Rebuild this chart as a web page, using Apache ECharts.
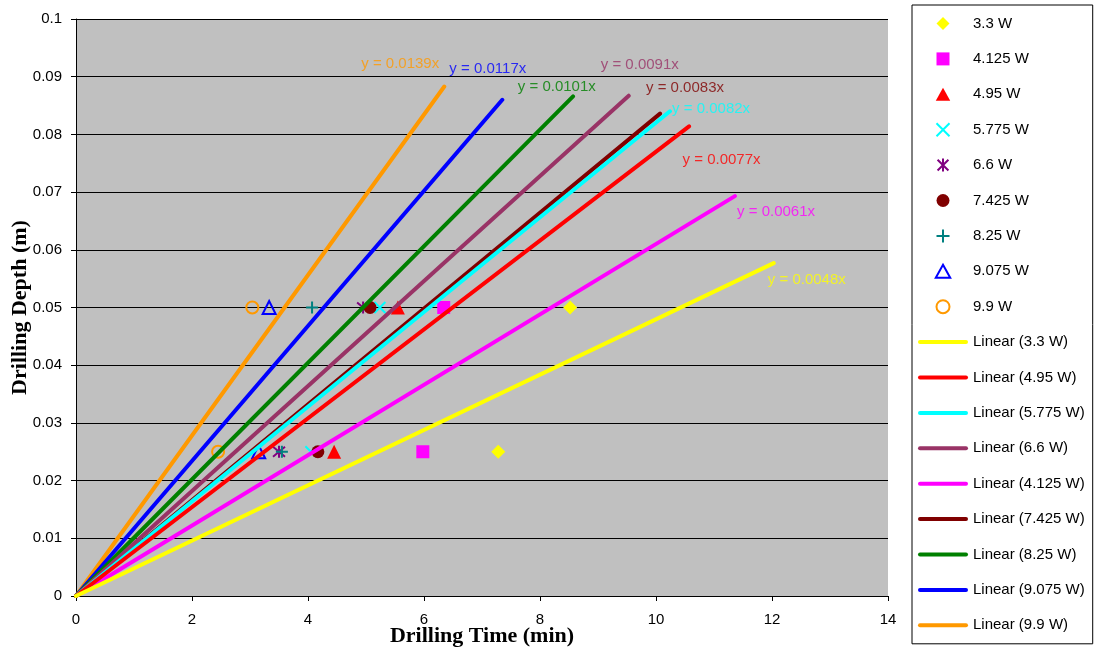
<!DOCTYPE html>
<html><head><meta charset="utf-8">
<script src="https://cdn.jsdelivr.net/npm/echarts@6/dist/echarts.min.js"></script>
<style>html,body{margin:0;padding:0;background:#fff}#c{width:1097px;height:648px}</style>
</head><body><div id="c"></div>
<script>
// ---- data ----
const powers = ['3.3', '4.125', '4.95', '5.775', '6.6', '7.425', '8.25', '9.075', '9.9'];
const depthLow = 0.025;
const depthHigh = 0.05;
const timeAtLow  = [7.28, 5.98, 4.45, 4.05, 3.50, 4.17, 3.55, 3.15, 2.45];
const timeAtHigh = [8.52, 6.34, 5.55, 5.24, 4.95, 5.07, 4.07, 3.33, 3.04];
const slopes = ['0.0048', '0.0061', '0.0077', '0.0082', '0.0091', '0.0083', '0.0101', '0.0117', '0.0139'];
const trendEndX = [12.03, 11.36, 10.57, 10.24, 9.53, 10.07, 8.57, 7.35, 6.35];
const trendEndY = [0.0577, 0.0693, 0.0814, 0.0840, 0.0867, 0.0836, 0.0866, 0.0860, 0.0883];
const trendLegendOrder = ['3.3', '4.95', '5.775', '6.6', '4.125', '7.425', '8.25', '9.075', '9.9'];

// ---- styling ----
const markerColors = ['#FFFF00', '#FF00FF', '#FF0000', '#00FFFF', '#800080', '#800000', '#008080', '#0000FF', '#FF9900'];
const lineColors   = ['#FFFF00', '#FF00FF', '#FF0000', '#00FFFF', '#993366', '#800000', '#008000', '#0000FF', '#FF9900'];
const P_DIAMOND = 'path://M5,0L10,5L5,10L0,5Z';
const P_SQUARE = 'path://M0,0L10,0L10,10L0,10Z';
const P_TRI = 'path://M5,0L10,9L0,9Z';
const P_X = 'path://M0,0L10,10M10,0L0,10';
const P_AST = 'path://M0,0L10,10M10,0L0,10M5,-1L5,11';
const P_PLUS = 'path://M5,0L5,10M0,5L10,5';
const markerDefs = [
  { symbol: P_DIAMOND, size: 14, mode: 'fill' },
  { symbol: P_SQUARE, size: 13, mode: 'fill' },
  { symbol: P_TRI, size: 14, mode: 'fill' },
  { symbol: P_X, size: 11, mode: 'stroke' },
  { symbol: P_AST, size: 12, mode: 'stroke' },
  { symbol: 'circle', size: 13, mode: 'fill' },
  { symbol: P_PLUS, size: 12, mode: 'stroke' },
  { symbol: P_TRI, size: 13, mode: 'hollow' },
  { symbol: 'circle', size: 12, mode: 'hollow' }
];
// equation label anchors (data units), same order as powers
const eqAnchorX = [12.60, 12.07, 11.13, 10.95, 9.72, 10.50, 8.29, 7.10, 5.59];
const eqAnchorY = [0.0548, 0.0666, 0.0756, 0.0844, 0.0920, 0.0880, 0.0882, 0.0913, 0.0922];

const sans = 'Liberation Sans, Arial, sans-serif';
const serif = 'Liberation Serif, Times New Roman, serif';

function markerStyle(i) {
  const d = markerDefs[i], c = markerColors[i];
  if (d.mode === 'fill') return { color: c, opacity: 1, borderWidth: 0 };
  if (d.mode === 'stroke') return { color: c, borderColor: c, borderWidth: 2, opacity: 1 };
  return { color: 'rgba(0,0,0,0)', borderColor: c, borderWidth: 2, opacity: 1 };
}

const series = [];
powers.forEach((p, i) => {
  const d = markerDefs[i];
  series.push({
    name: p + ' W', type: 'scatter', symbol: d.symbol, symbolSize: d.size,
    itemStyle: markerStyle(i), z: 2,
    data: [[timeAtLow[i], depthLow], [timeAtHigh[i], depthHigh]]
  });
});
trendLegendOrder.slice().reverse().forEach(p => {
  const i = powers.indexOf(p);
  series.push({
    name: 'Linear (' + p + ' W)', type: 'line', symbol: 'none', showSymbol: false, z: 3,
    lineStyle: { color: lineColors[i], width: 4, cap: 'round' },
    itemStyle: { color: lineColors[i] },
    data: [[0, 0], [trendEndX[i], trendEndY[i]]]
  });
});
series.push({
  name: 'eq', type: 'scatter', symbolSize: 0, z: 4, silent: true,
  data: powers.map((p, i) => ({
    value: [eqAnchorX[i], eqAnchorY[i]],
    label: { show: true, position: 'inside', formatter: 'y = ' + slopes[i] + 'x',
      color: lineColors[i], fontSize: 15, fontFamily: sans }
  }))
});

const legendData = powers.map((p, i) => ({
  name: p + ' W', icon: markerDefs[i].symbol, itemStyle: markerStyle(i)
})).concat(trendLegendOrder.map(p => {
  const i = powers.indexOf(p);
  return { name: 'Linear (' + p + ' W)', icon: 'path://M2,0L48,0A2,2 0 0 1 48,4L2,4A2,2 0 0 1 2,0Z',
    itemStyle: { color: lineColors[i], borderWidth: 0, opacity: 1 } };
}));

const chart = echarts.init(document.getElementById('c'), null, { renderer: 'canvas' });
chart.setOption({
  animation: false,
  backgroundColor: '#ffffff',
  grid: { left: 76, right: 209, top: 19, bottom: 52, show: true, backgroundColor: '#c0c0c0',
    borderWidth: 0, containLabel: false, outerBoundsMode: 'none' },
  xAxis: {
    type: 'value', min: 0, max: 14, interval: 2,
    name: 'Drilling Time (min)', nameLocation: 'middle', nameGap: 29, nameMoveOverlap: false,
    nameTextStyle: { fontFamily: serif, fontWeight: 'bold', fontSize: 22, color: '#000' },
    axisLine: { show: true, lineStyle: { color: '#000', width: 1 } },
    axisTick: { show: true, length: 5, lineStyle: { color: '#000' } },
    axisLabel: { color: '#000', fontSize: 15, fontFamily: sans, margin: 16 },
    splitLine: { show: false }
  },
  yAxis: {
    type: 'value', min: 0, max: 0.1, interval: 0.01,
    name: 'Drilling Depth (m)', nameLocation: 'middle', nameGap: 45, nameMoveOverlap: false,
    nameTextStyle: { fontFamily: serif, fontWeight: 'bold', fontSize: 22, color: '#000' },
    axisLine: { show: true, lineStyle: { color: '#000', width: 1 } },
    axisTick: { show: true, length: 5, lineStyle: { color: '#000' } },
    axisLabel: { color: '#000', fontSize: 15, fontFamily: sans, margin: 14,
      formatter: v => String(Math.round(v * 100) / 100) },
    splitLine: { show: true, lineStyle: { color: '#000', width: 1 } }
  },
  legend: {
    orient: 'vertical', left: 912, top: 5,
    data: legendData,
    itemWidth: 50, itemHeight: 13, itemGap: 20.4,
    symbolKeepAspect: true,
    padding: [11, 8, 11, 6],
    borderColor: '#000', borderWidth: 1, backgroundColor: '#fff',
    textStyle: { color: '#000', fontSize: 15, fontFamily: sans, lineHeight: 15 },
    selectedMode: false
  },
  series: series
});
</script></body></html>
